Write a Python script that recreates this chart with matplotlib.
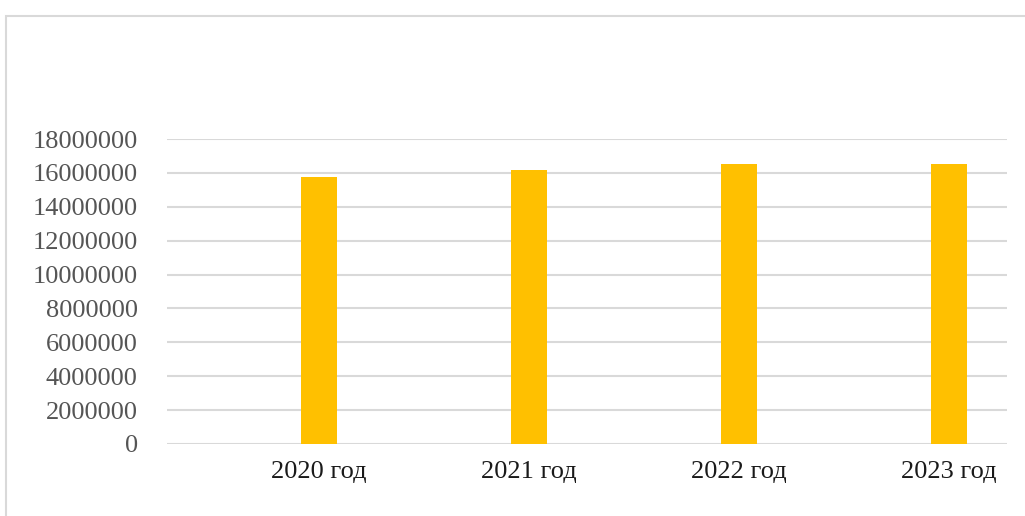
import matplotlib
matplotlib.use("Agg")
import matplotlib.pyplot as plt
from matplotlib.patches import Rectangle

# Data
years = ["2020 год", "2021 год", "2022 год", "2023 год"]
values = [15760000, 16170000, 16500000, 16500000]
y_ticks = [0, 2000000, 4000000, 6000000, 8000000, 10000000,
           12000000, 14000000, 16000000, 18000000]

plt.rcParams["font.family"] = ["Liberation Serif", "DejaVu Serif"]

W, H = 1025, 516
fig = plt.figure(figsize=(W / 100, H / 100), dpi=100)
fig.patch.set_facecolor("white")

# Outer chart frame
fig.patches.append(Rectangle((6 / W, -0.05), 1.1, (H - 16) / H + 0.05,
                             transform=fig.transFigure, fill=False,
                             edgecolor="#d9d9d9", linewidth=1.5))

ax = fig.add_axes([167 / W, 72 / H, 840 / W, 305 / H])
x = list(range(len(years)))
ax.bar(x, values, width=0.171, color="#FFC000", zorder=3)

ax.set_xlim(-0.724, 3.276)
ax.set_ylim(0, 18000000)
ax.set_yticks(y_ticks)
ax.set_yticklabels([str(v) for v in y_ticks], fontsize=19, color="#555555")
ax.set_xticks(x)
ax.set_xticklabels(years, fontsize=19, color="#1a1a1a")

ax.yaxis.grid(True, color="#d9d9d9", linewidth=1.5, zorder=0)
ax.tick_params(axis="y", length=0, pad=21)
ax.tick_params(axis="x", length=0, pad=12)
for s in ax.spines.values():
    s.set_visible(False)
ax.set_facecolor("none")

fig.savefig("out.png", dpi=100)
